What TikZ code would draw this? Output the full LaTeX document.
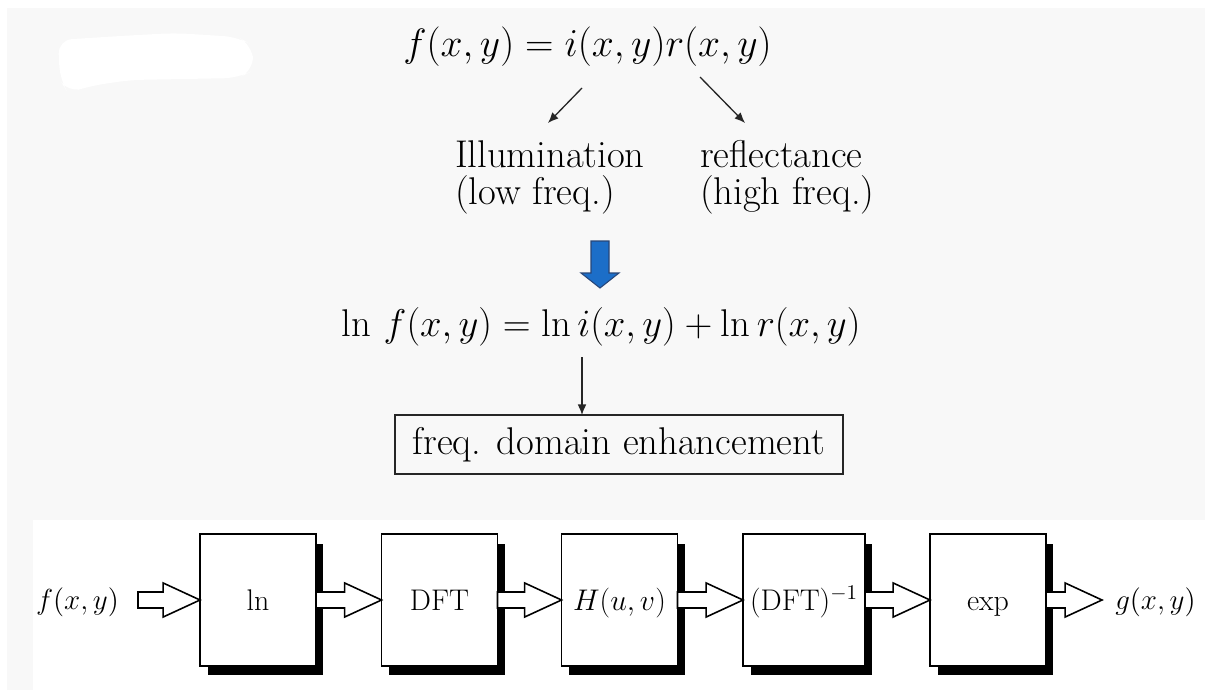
\documentclass[tikz,border=0pt]{standalone}
\usepackage{fix-cm}
\usepackage{fontspec}
\usetikzlibrary{shadows,arrows.meta,calc}
\definecolor{bggrey}{RGB}{248,248,248}
\definecolor{arrowblue}{RGB}{28,110,200}
\definecolor{arrowedge}{RGB}{40,70,120}
\newcommand\harrow[2]{%
  \draw[hollowarrow] let \p1=(#1), \p2=(#2) in
    (\x1,\y2+4.55pt) -- (\x2-21pt,\y2+4.55pt) -- (\x2-21pt,\y2+9.7pt) -- (\x2,\y2)
    -- (\x2-21pt,\y2-9.7pt) -- (\x2-21pt,\y2-4.55pt) -- (\x1,\y2-4.55pt) -- cycle;}
\begin{document}
\begin{tikzpicture}[x=0.02cm,y=-0.02cm,
  eqfont/.style={font=\fontsize{22.5}{25}\selectfont},
  eqfontb/.style={font=\fontsize{22}{25}\selectfont},
  labfont/.style={font=\fontsize{22}{24}\selectfont, inner sep=0pt, outer sep=0pt},
  thinarrow/.style={-{Latex[length=6pt,width=5pt]}, line width=0.75pt, draw=black!85},
  blk/.style={draw, line width=1.1pt, fill=white, minimum width=2.32cm, minimum height=2.64cm,
    outer sep=0pt, inner sep=0pt, font=\fontsize{17}{19}\selectfont,
    text height=14pt, text depth=2.6pt,
    drop shadow={shadow xshift=0.15cm, shadow yshift=-0.19cm, fill=black, opacity=1}},
  hollowarrow/.style={draw=black, fill=white, line width=0.9pt, line join=miter},
  iofont/.style={font=\fontsize{16.5}{18}\selectfont, inner sep=0pt}]
\useasboundingbox (0,0) rectangle (1205,690);
% background
\fill[white] (0,0) rectangle (1205,690);
\fill[bggrey] (7,8) rectangle (1205,690);
\fill[white] (33,520) rectangle (1205,690);
\fill[white, rounded corners=8pt] (58,40) -- (120,36) -- (175,33) -- (238,37) -- (252,45)
  -- (254,70) -- (238,78) -- (130,80) -- (90,86) -- (68,93) -- (60,80) -- cycle;

% top equation
\node[eqfont, anchor=base, inner sep=0pt] (eq1) at (587.5,56) {$f(x,y) = i(x,y)r(x,y)$};
\coordinate (a1s) at (582,88);
\coordinate (a1e) at (548,123);
\coordinate (a2s) at (700,77);
\coordinate (a2e) at (745,123);
\draw[thinarrow] (a1s) -- (a1e);
\draw[thinarrow] (a2s) -- (a2e);

% labels
\node[labfont, anchor=base west] (ill) at (455,167) {Illumination};
\node[labfont, anchor=base west] (low) at (455,204) {(low freq.)};
\node[labfont, anchor=base west] (refl) at (700,167) {reflectance};
\node[labfont, anchor=base west] (high) at (700,204) {(high freq.)};

% blue block arrow
\filldraw[fill=arrowblue, draw=arrowedge, line width=0.6pt, line join=miter]
  (591,241) -- (609,241) -- (609,273) -- (619,273) -- (600,288) -- (581,273) -- (591,273) -- cycle;

% second equation
\node[eqfontb, anchor=base, inner sep=0pt] (eq2) at (601,336) {$\ln\, f(x,y) = \ln i(x,y) + \ln r(x,y)$};
\coordinate (a3s) at (582,357);

% enhancement box
\node[draw, line width=1pt, draw=black!85, minimum width=8.96cm, minimum height=1.18cm,
  inner sep=0pt, outer sep=0pt, labfont] (enh) at (619,444.5) {freq. domain enhancement};
\draw[thinarrow] (a3s) -- (a3s |- enh.north);

% block diagram
\node[iofont] (fin) at (77.5,602) {$f(x,y)$};
\coordinate (s0) at (138,600);
\node[blk] (b1) at (258,600) {ln};
\node[blk] (b2) at (439.5,600) {DFT};
\node[blk] (b3) at (619.5,600) {$H(u,v)$};
\node[blk, minimum width=2.44cm] (b4) at (804,600) {(DFT)$^{-1}$};
\node[blk] (b5) at (988,600) {exp};
\coordinate (tend) at (1102,600);
\node[iofont] (gout) at (1155.5,602) {$g(x,y)$};

\harrow{s0}{b1.west}
\harrow{b1.east}{b2.west}
\harrow{b2.east}{b3.west}
\harrow{b3.east}{b4.west}
\harrow{b4.east}{b5.west}
\harrow{b5.east}{tend}
\end{tikzpicture}
\end{document}
